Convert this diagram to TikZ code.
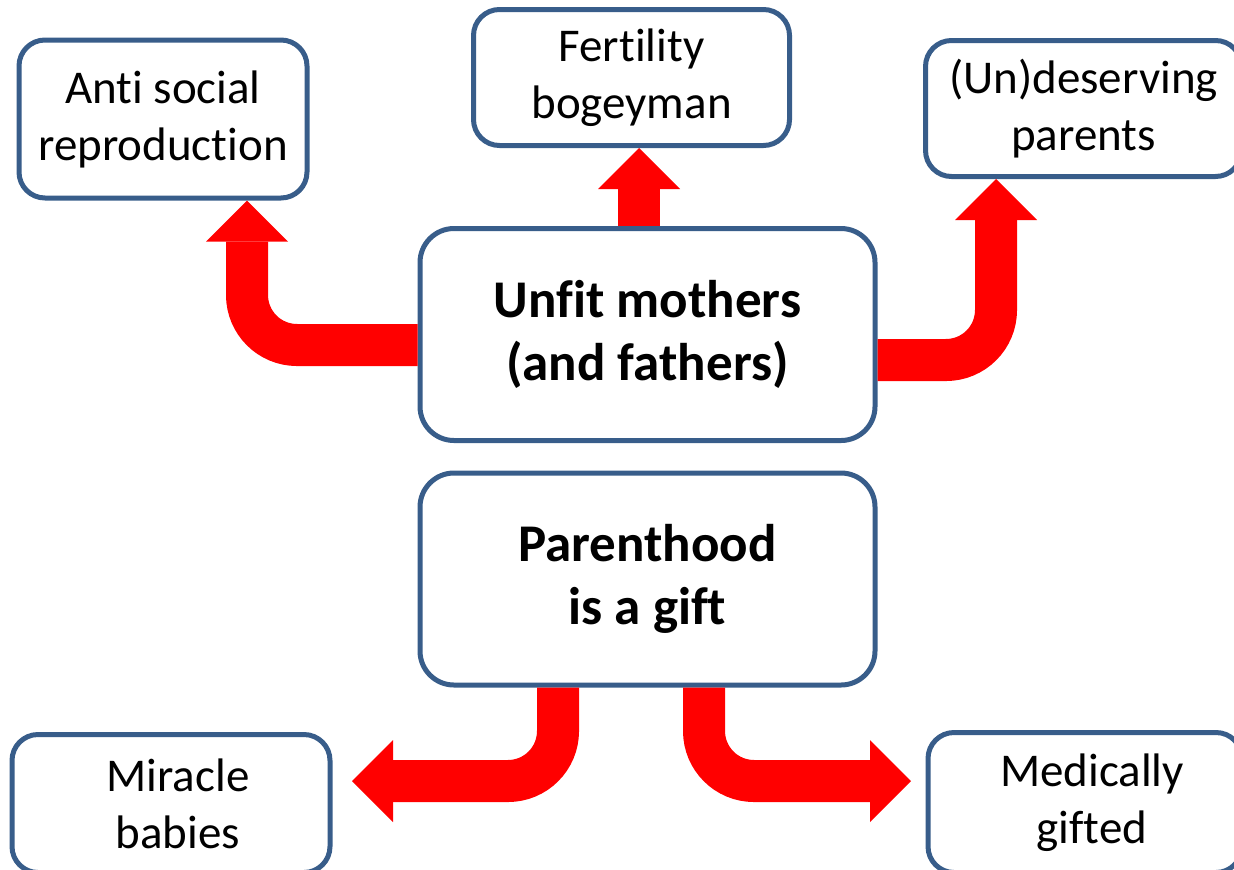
\documentclass[tikz,border=0pt]{standalone}
\usepackage{fontspec}
\setmainfont{Carlito}[Ligatures=NoCommon]
\usetikzlibrary{arrows.meta}
\definecolor{boxblue}{RGB}{56,93,138}
\tikzset{
  box/.style={draw=boxblue, line width=2.5pt, rounded corners=13pt, fill=white, align=center, inner sep=0pt,
    font=\fontsize{23.5pt}{28.5pt}\selectfont},
  bigbox/.style={box, rounded corners=17pt, font=\fontsize{26.5pt}{31.5pt}\selectfont\bfseries},
  flow/.style={draw=red, line width=21pt, rounded corners=25pt,
    -{Triangle[length=20.5pt, width=41pt, line width=0pt]}}
}
\begin{document}
\begin{tikzpicture}[x=0.5pt, y=-0.5pt]
\useasboundingbox (0,0) rectangle (1234,869);

\coordinate (AS) at (163,119);
\coordinate (FB) at (631.5,77.5);
\coordinate (UP) at (1083.5,108.5);
\coordinate (UM) at (647.5,334.5);
\coordinate (PG) at (647.5,579);
\coordinate (MB) at (171,803.5);
\coordinate (MG) at (1085,802.5);

\begin{scope}[every node/.style={box, minimum width=158pt, minimum height=68pt}]
\node[minimum width=144pt, minimum height=79pt] (anti) at (AS) {Anti social\\reproduction};
\node (fert) at (FB) {Fertility\\bogeyman};
\node (undes) at (UP) {(Un)deserving\\parents};
\node[minimum width=159pt, minimum height=69pt] (miracle) at (MB) {\hspace*{7pt}Miracle\\\hspace*{7pt}babies};
\node[minimum width=157pt, minimum height=70pt] (medic) at (MG) {\hspace*{7pt}Medically\\\hspace*{7pt}gifted};
\end{scope}

\begin{scope}[every node/.style={bigbox, minimum width=227.5pt, minimum height=106pt}]
\node (unfit) at (UM) {Unfit mothers\\(and fathers)};
\node (gift) at (PG) {Parenthood\\is a gift};
\end{scope}

\coordinate (MBtip) at (352,781);
\coordinate (MGtip) at (911,781);

\draw[flow] (unfit.west |- 0,345) -- (247,345) -- (anti.south -| 247,0);
\draw[flow] (unfit.north -| 639,0) -- (fert.south -| 639,0);
\draw[flow] (unfit.east |- 0,360) -- (996,360) -- (undes.south -| 996,0);
\draw[flow] (gift.south -| 558,0) -- (558,781) -- (MBtip);
\draw[flow] (gift.south -| 704,0) -- (704,781) -- (MGtip);

\end{tikzpicture}
\end{document}
